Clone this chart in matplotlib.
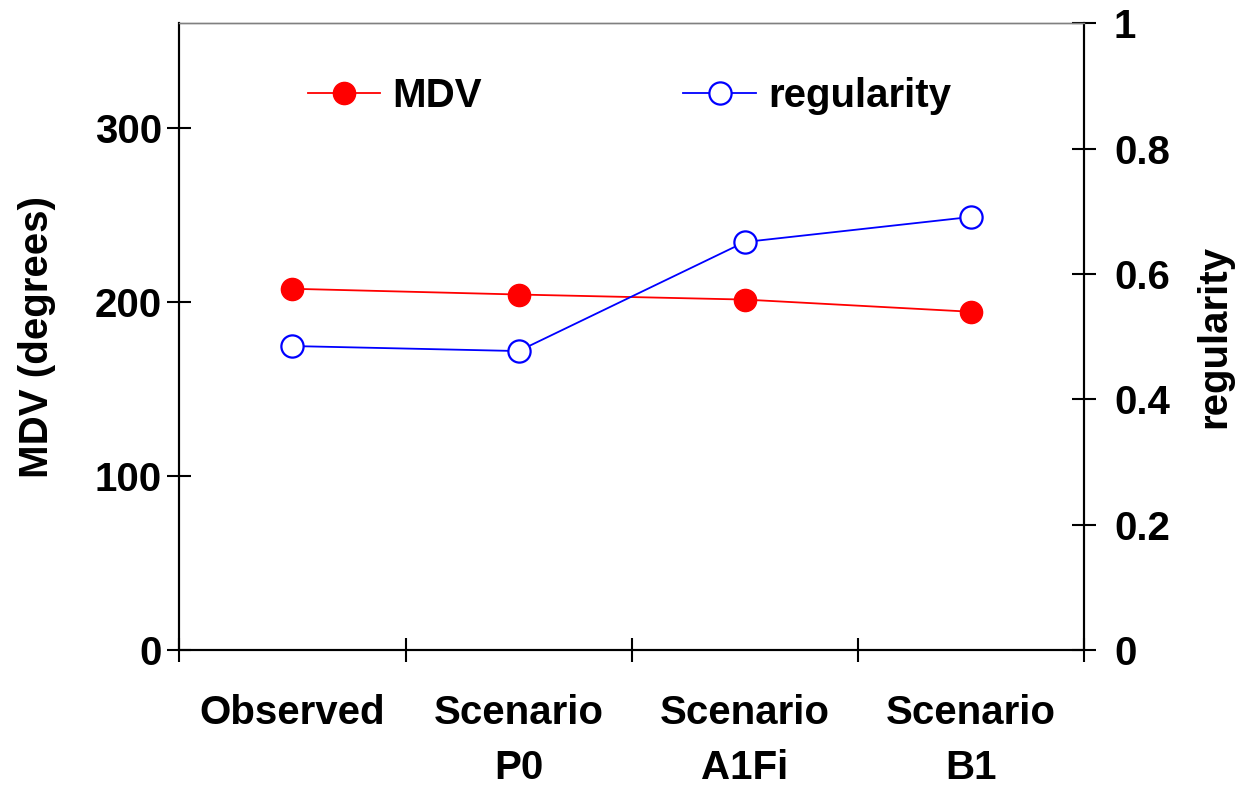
import matplotlib
matplotlib.use("Agg")
import matplotlib.pyplot as plt
from matplotlib.ticker import FixedLocator, NullFormatter

categories = ["Observed", "Scenario\nP0", "Scenario\nA1Fi", "Scenario\nB1"]
mdv = [207.5, 204.2, 201.3, 194.3]
regularity = [0.485, 0.477, 0.651, 0.691]

FS = 29

plt.rcParams["font.family"] = ["Liberation Sans", "DejaVu Sans"]
plt.rcParams["font.weight"] = "bold"

fig = plt.figure(figsize=(12.42, 7.85), dpi=100)
ax = fig.add_axes([0.1444, 0.172, 0.7284, 0.7983])
ax2 = ax.twinx()

x = list(range(1, len(categories) + 1))
l1, = ax.plot(x, mdv, color="red", lw=1.3, marker="o", ms=16,
              mfc="red", mec="red", label="MDV", zorder=3)
l2, = ax2.plot(x, regularity, color="blue", lw=1.3, marker="o", ms=16,
               mfc="white", mec="blue", mew=1.6, label="regularity", zorder=3)

ax.set_xlim(0.5, len(categories) + 0.5)
ax.set_ylim(0, 360)
ax2.set_ylim(0, 1)

ax.set_yticks([0, 100, 200, 300])
ax2.set_yticks([0, 0.2, 0.4, 0.6, 0.8, 1])
ax2.set_yticklabels(["0", "0.2", "0.4", "0.6", "0.8", "1"])

# category boundaries as major ticks, labels on minor ticks at centres
ax.xaxis.set_major_locator(FixedLocator([i + 0.5 for i in range(len(categories) + 1)]))
ax.xaxis.set_major_formatter(NullFormatter())
ax.xaxis.set_minor_locator(FixedLocator(x))
ax.set_xticklabels(categories, minor=True, fontsize=FS, fontweight="bold",
                   linespacing=1.55)
ax.tick_params(axis="x", which="major", direction="inout", length=17, width=1.5)
ax.tick_params(axis="x", which="minor", length=0, pad=32)

ax.tick_params(axis="y", direction="inout", length=17, width=1.5,
               labelsize=FS, pad=4)
ax2.tick_params(axis="y", direction="inout", length=17, width=1.5,
                labelsize=FS, pad=13)
for lab in ax.get_yticklabels() + ax2.get_yticklabels():
    lab.set_fontweight("bold")

for a in (ax, ax2):
    for s in ("left", "right", "bottom"):
        a.spines[s].set_linewidth(1.5)
        a.spines[s].set_color("black")
    a.spines["top"].set_color("#808080")
    a.spines["top"].set_linewidth(1.0)

ax.set_ylabel("MDV (degrees)", fontsize=FS, fontweight="bold", labelpad=28)
ax2.set_ylabel("regularity", fontsize=FS, fontweight="bold", labelpad=18)

ax.legend(handles=[l1, l2], loc="center left", bbox_to_anchor=(0.142, 0.884),
          ncol=2, frameon=False, fontsize=FS, handlelength=1.8,
          handletextpad=0.3, columnspacing=5.0, borderpad=0, borderaxespad=0)
for t in ax.get_legend().get_texts():
    t.set_fontweight("bold")

fig.savefig("out.png", dpi=100)
